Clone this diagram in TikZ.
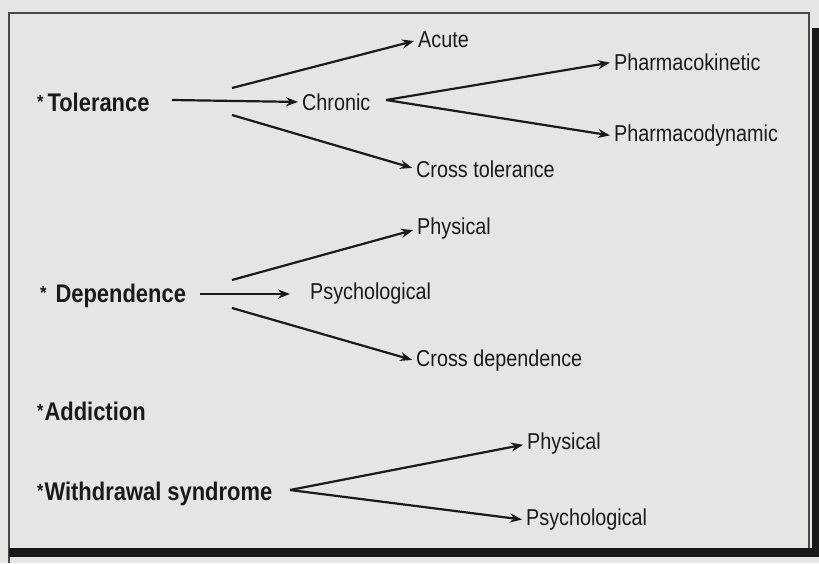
\documentclass[tikz,border=0pt]{standalone}
\usepackage{fontspec}
\setmainfont{Liberation Sans}[FakeStretch=0.86]
\usetikzlibrary{arrows.meta}
\definecolor{paper}{HTML}{E6E5E1}
\definecolor{ink}{HTML}{1A1A1A}
\tikzset{
  lbl/.style={inner sep=0pt, anchor=west, text=ink, font=\fontsize{23}{26}\selectfont},
  head/.style={lbl, font=\fontsize{25.5}{29}\selectfont\bfseries},
  arr/.style={draw=ink, line width=2.2pt, shorten >=4pt, -{Stealth[length=12pt,width=9pt]}},
}
\newcommand{\bulstar}{\raisebox{3pt}{\fontsize{19}{20}\selectfont *}}
\begin{document}
\begin{tikzpicture}[x=1pt,y=-1pt]
\useasboundingbox (0,0) rectangle (819,563);
\fill[paper] (0,0) rectangle (819,563);
% frame
\draw[ink!80, line width=1.6pt] (9,563) -- (9,13) -- (809,13) -- (809,548);
\fill[black!90] (812,28) rectangle (819,557);
\fill[black!90] (9,548) rectangle (819,557);

% Tolerance
\node[head] (tol) at (37,102) {\bulstar\hspace{4pt}Tolerance};
\node[lbl] (chr) at (302,102) {Chronic};
\node[lbl] (acu) at (418,40) {Acute};
\node[lbl] (crt) at (416,169) {Cross tolerance};
\node[lbl] (pk) at (614,62) {Pharmacokinetic};
\node[lbl] (pd) at (614,136) {Pharmacodynamic};
\coordinate (tolA) at (232,88);
\coordinate (tolC) at (232,115);
\coordinate (chrO) at (386,100);
\draw[arr] (172,100) -- (chr.west);
\draw[arr] (tolA) -- (acu.west);
\draw[arr] (tolC) -- (crt.west);
\draw[arr] (chrO) -- (pk.west);
\draw[arr] (chrO) -- (pd.west);

% Dependence
\node[head] (dep) at (40,296) {\bulstar\hspace{9pt}Dependence};
\node[lbl] (psy) at (310,294) {Psychological};
\node[lbl] (phy) at (417,229) {Physical};
\node[lbl] (crd) at (416,361) {Cross dependence};
\coordinate (depA) at (232,280);
\coordinate (depC) at (232,308);
\draw[arr] (200,294) -- ([xshift=-16pt]psy.west);
\draw[arr] (depA) -- (phy.west);
\draw[arr] (depC) -- (crd.west);

% Addiction
\node[head] (add) at (37,411) {\bulstar\hspace{1pt}Addiction};

% Withdrawal
\node[head] (wd) at (37,494) {\bulstar\hspace{1pt}Withdrawal syndrome};
\node[lbl] (wphy) at (527,444) {Physical};
\node[lbl] (wpsy) at (526,520) {Psychological};
\coordinate (wdO) at (290,490);
\draw[arr] (wdO) -- (wphy.west);
\draw[arr] (wdO) -- (wpsy.west);
\end{tikzpicture}
\end{document}
